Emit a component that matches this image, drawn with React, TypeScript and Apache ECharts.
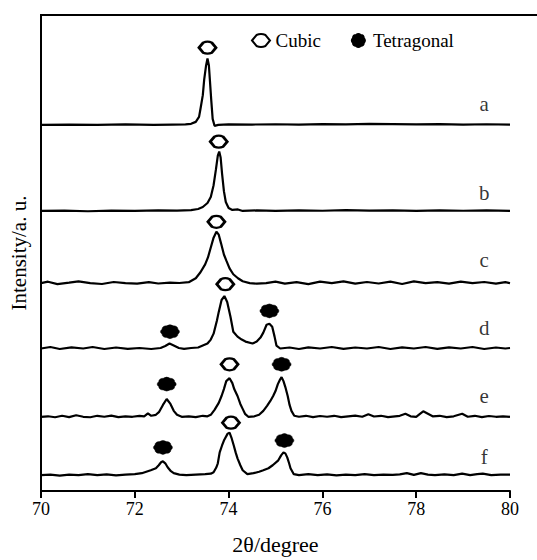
import React, { useEffect, useRef } from "react";
import * as echarts from "echarts";

// ---- data ----
const curveNames = ["a", "b", "c", "d", "e", "f"];
const curveOffsets = [370, 283, 210, 144, 75, 16];
const labelX = 79.45;
const labelY = [391, 301, 233, 165, 96, 34];

const curveA = [[70,0],[70.6,0.3],[71.2,0],[71.8,0.4],[72.4,0],[72.8,0.3],[73.08,0.5],[73.2,1],[73.3,3],[73.37,8],[73.4,16],[73.45,30],[73.48,46],[73.52,60],[73.55,67],[73.58,60],[73.6,46],[73.63,25],[73.66,6],[73.7,-1],[73.78,0],[74.0,0.5],[74.5,0.3],[75.0,0.6],[75.5,0.3],[76.0,0.8],[76.5,0.5],[77.0,1],[77.5,0.8],[78.0,0.4],[78.5,0.8],[79.0,0.2],[79.5,0.6],[80,0.2]];
const curveB = [[70,0],[70.5,0.4],[71,-0.3],[71.5,0.3],[72,0],[72.5,0.5],[72.9,0.3],[73.2,0.8],[73.35,2],[73.45,4],[73.55,8],[73.62,14],[73.68,26],[73.73,42],[73.77,56],[73.8,60],[73.83,54],[73.86,38],[73.9,20],[73.94,9],[74.0,3],[74.08,1],[74.2,1.5],[74.3,0],[74.6,0.5],[75.0,0],[75.5,0.6],[76.0,0.2],[76.5,0.8],[77.0,0.3],[77.5,0.6],[78.0,0],[78.5,0.5],[79.0,0.2],[79.5,0.5],[80,0]];
const curveC = [[70,0],[70.15,1.5],[70.35,-1],[70.6,0.5],[70.8,1.8],[71.05,0],[71.3,-0.8],[71.55,1.2],[71.8,0],[72.05,-0.5],[72.3,1],[72.5,-0.3],[72.75,0.5],[72.95,0.2],[73.15,1],[73.3,5],[73.4,11],[73.5,19],[73.56,26],[73.62,36],[73.68,46],[73.74,52],[73.79,49],[73.84,40],[73.9,29],[73.95,23],[74.02,15],[74.1,9],[74.2,5],[74.3,2],[74.45,0],[74.6,-0.5],[74.8,0],[75.0,1.5],[75.2,-0.5],[75.45,1],[75.7,-1],[75.95,1.5],[76.2,0],[76.45,1.8],[76.7,-0.5],[76.95,1.2],[77.2,-0.3],[77.45,1.5],[77.7,-0.8],[77.95,1.8],[78.2,0],[78.45,1],[78.7,-0.5],[78.95,1.5],[79.2,0],[79.45,1.2],[79.7,-0.5],[79.9,1],[80,0]];
const curveD = [[70,0],[70.2,1.5],[70.4,-0.5],[70.65,1.2],[70.9,0],[71.1,1.5],[71.35,-0.5],[71.6,1],[71.85,-0.3],[72.1,0.5],[72.35,-0.5],[72.55,0.5],[72.65,2.5],[72.74,5],[72.83,3],[72.94,0.5],[73.05,-0.3],[73.2,0.5],[73.35,1],[73.45,3],[73.55,5],[73.62,9],[73.68,15],[73.75,28],[73.79,37],[73.85,49],[73.91,53],[73.97,47],[74.04,32],[74.1,17],[74.19,12],[74.28,9],[74.36,7],[74.51,5],[74.6,7],[74.68,11],[74.74,16],[74.81,24],[74.87,25],[74.93,22],[74.98,12],[75.02,3],[75.1,0],[75.3,1],[75.5,-0.5],[75.7,1.2],[75.95,0],[76.2,1.5],[76.45,-0.3],[76.7,1],[76.95,0],[77.2,1.5],[77.45,-0.5],[77.7,1.2],[77.95,0],[78.2,1.5],[78.45,-0.3],[78.7,1.2],[78.95,0],[79.2,1.5],[79.45,-0.5],[79.7,1],[79.9,0],[80,0.5]];
const curveE = [[70,0],[70.15,0.5],[70.3,-0.5],[70.45,1],[70.6,-0.3],[70.75,1.5],[70.9,0],[71.05,-0.5],[71.2,1],[71.35,0],[71.5,1.2],[71.65,-0.3],[71.8,0.5],[71.95,0],[72.1,1],[72.2,0.5],[72.28,3.5],[72.35,1],[72.45,2],[72.52,5],[72.6,12],[72.68,18],[72.76,13],[72.83,6],[72.9,2],[73.0,0],[73.15,0.5],[73.3,-0.3],[73.45,1],[73.55,0.5],[73.62,2],[73.7,7],[73.79,14],[73.85,21],[73.9,28],[73.95,36],[74.02,39],[74.08,34],[74.12,28],[74.19,21],[74.25,13],[74.3,8],[74.35,3],[74.42,0],[74.55,0.5],[74.65,2],[74.74,6],[74.82,11],[74.89,16],[74.95,21],[75.0,26],[75.05,33],[75.09,37],[75.13,40],[75.17,36],[75.21,30],[75.26,21],[75.3,12],[75.34,6],[75.4,1],[75.5,0],[75.65,1],[75.8,-0.3],[75.95,0.8],[76.1,0],[76.25,1],[76.4,-0.3],[76.55,0.5],[76.7,1.2],[76.85,0],[76.98,2.5],[77.1,0.3],[77.25,1],[77.4,-0.3],[77.55,0.5],[77.65,1],[77.77,3],[77.88,0.5],[78.0,0],[78.08,3],[78.15,5.5],[78.25,3],[78.35,0.5],[78.5,1],[78.65,-0.3],[78.8,0.5],[78.98,3],[79.1,0],[79.25,1],[79.4,-0.3],[79.55,0.8],[79.7,0],[79.85,0.5],[80,0]];
const curveF = [[70,0],[70.2,0.5],[70.4,-0.5],[70.6,0.5],[70.8,0],[71.0,1],[71.2,0],[71.4,0.8],[71.6,-0.3],[71.8,0.5],[72.0,1],[72.15,2],[72.34,5],[72.45,7],[72.51,10],[72.56,13],[72.6,14],[72.65,12],[72.7,8],[72.77,4],[72.83,2],[72.95,0.5],[73.1,0],[73.3,0.5],[73.5,1],[73.62,1.5],[73.68,3],[73.74,8],[73.77,12],[73.81,23],[73.86,30],[73.9,35],[73.98,42],[74.02,43],[74.06,38],[74.11,30],[74.15,23],[74.19,17],[74.25,10],[74.3,5],[74.4,1],[74.53,2],[74.65,3.5],[74.74,5],[74.85,7],[74.94,10],[75.06,15],[75.12,20],[75.17,23],[75.21,22],[75.25,18],[75.29,12],[75.32,7],[75.39,1],[75.5,0],[75.7,1],[75.9,0],[76.1,0.8],[76.3,-0.3],[76.5,0.5],[76.7,0],[76.9,1],[77.1,0],[77.3,0.5],[77.5,0.2],[77.65,0.8],[77.8,2],[77.95,0.3],[78.1,2],[78.25,0.5],[78.4,0],[78.6,0.8],[78.8,0],[78.98,1.5],[79.15,0],[79.3,1],[79.42,1.5],[79.6,0],[79.8,0.5],[80,0.5]];
const curves = [curveA, curveB, curveC, curveD, curveE, curveF];

const cubicMarkers = [[73.55,448],[73.79,353],[73.74,272],[73.93,209],[74.02,128],[74.05,69]];
const tetragonalMarkers = [[72.75,161],[74.87,182],[72.68,108],[75.13,128],[72.6,44],[75.19,51]];

const xTicks = { min: 70, max: 80, interval: 2 };

// ---- marker shapes (style) ----
function scallopPath(n: number, rIn: number, rOut: number): string {
  const c = 16;
  const step = (Math.PI * 2) / n;
  const p = (r: number, a: number) => `${(c + r * Math.cos(a)).toFixed(2)} ${(c + r * Math.sin(a)).toFixed(2)}`;
  let d = `M${p(rIn, -0.5 * step)}`;
  for (let k = 0; k < n; k++) {
    d += ` Q${p(rOut, k * step)} ${p(rIn, (k + 0.5) * step)}`;
  }
  return d + " Z";
}
const cubicSymbol = "path://M0 7 L4.5 1.5 Q9 -0.5 13.5 1.5 L18 7 L13.5 12.5 Q9 14.5 4.5 12.5 Z";
const tetraSymbol = "path://" + scallopPath(8, 12.5, 16);

const FONT = "'Liberation Serif', 'Times New Roman', serif";

export default function App() {
  const ref = useRef<HTMLDivElement>(null);
  useEffect(() => {
    if (!ref.current) return;
    const chart = echarts.init(ref.current, undefined, { renderer: "svg" });
    const lineSeries = curves.map((pts, i) => ({
      name: curveNames[i],
      type: "line",
      data: pts.map(([x, y]) => [x, y + curveOffsets[i]]),
      showSymbol: false,
      symbol: "none",
      lineStyle: { color: "#000", width: 2.2 },
      silent: true,
      z: 2,
    }));
    chart.setOption({
      animation: false,
      backgroundColor: "#fff",
      grid: { left: 40, top: 15, right: 27, bottom: 64, containLabel: false },
      legend: {
        data: ["Cubic", "Tetragonal"],
        left: 246,
        top: 26,
        itemWidth: 19,
        itemHeight: 13,
        itemGap: 30,
        textStyle: { fontFamily: FONT, fontSize: 19, color: "#000" },
      },
      xAxis: {
        type: "value",
        min: xTicks.min,
        max: xTicks.max,
        interval: xTicks.interval,
        name: "2θ/degree",
        nameLocation: "middle",
        nameGap: 42,
        nameTextStyle: { fontFamily: FONT, fontSize: 22, color: "#000" },
        axisLine: { show: true, lineStyle: { color: "#000", width: 2 } },
        axisTick: { show: true, inside: false, length: 7, lineStyle: { color: "#000", width: 2 } },
        axisLabel: { fontFamily: FONT, fontSize: 18, color: "#000", margin: 9 },
        splitLine: { show: false },
      },
      yAxis: {
        type: "value",
        min: 0,
        max: 481,
        name: "Intensity/a. u.",
        nameLocation: "middle",
        nameGap: 12,
        nameTextStyle: { fontFamily: FONT, fontSize: 21, color: "#000" },
        axisLine: { show: true, lineStyle: { color: "#000", width: 2 } },
        axisTick: { show: false },
        axisLabel: { show: false },
        splitLine: { show: false },
      },
      graphic: [
        {
          type: "line",
          shape: { x1: 40, y1: 15, x2: 537, y2: 15 },
          style: { stroke: "#000", lineWidth: 2 },
          silent: true,
        },
      ],
      series: [
        ...lineSeries,
        {
          name: "Cubic",
          type: "scatter",
          data: cubicMarkers,
          symbol: cubicSymbol,
          symbolSize: [17, 12],
          itemStyle: { color: "#fff", borderColor: "#000", borderWidth: 2.6, opacity: 1 },
          silent: true,
          z: 5,
        },
        {
          name: "Tetragonal",
          type: "scatter",
          data: tetragonalMarkers,
          symbol: tetraSymbol,
          symbolSize: [19, 14],
          itemStyle: { color: "#000", borderColor: "#000", borderWidth: 0.5, opacity: 1 },
          silent: true,
          z: 5,
        },
        {
          name: "labels",
          type: "scatter",
          data: curveNames.map((n, i) => ({ name: n, value: [labelX, labelY[i]] })),
          symbolSize: 1,
          itemStyle: { color: "rgba(0,0,0,0)" },
          label: {
            show: true,
            position: "inside",
            formatter: "{b}",
            fontFamily: FONT,
            fontSize: 21,
            color: "#000",
          },
          silent: true,
          z: 5,
        },
      ],
    });
    return () => chart.dispose();
  }, []);
  return (
    <div
      ref={ref}
      style={{ position: "absolute", left: 0, top: 0, width: 537, height: 560 }}
    />
  );
}
